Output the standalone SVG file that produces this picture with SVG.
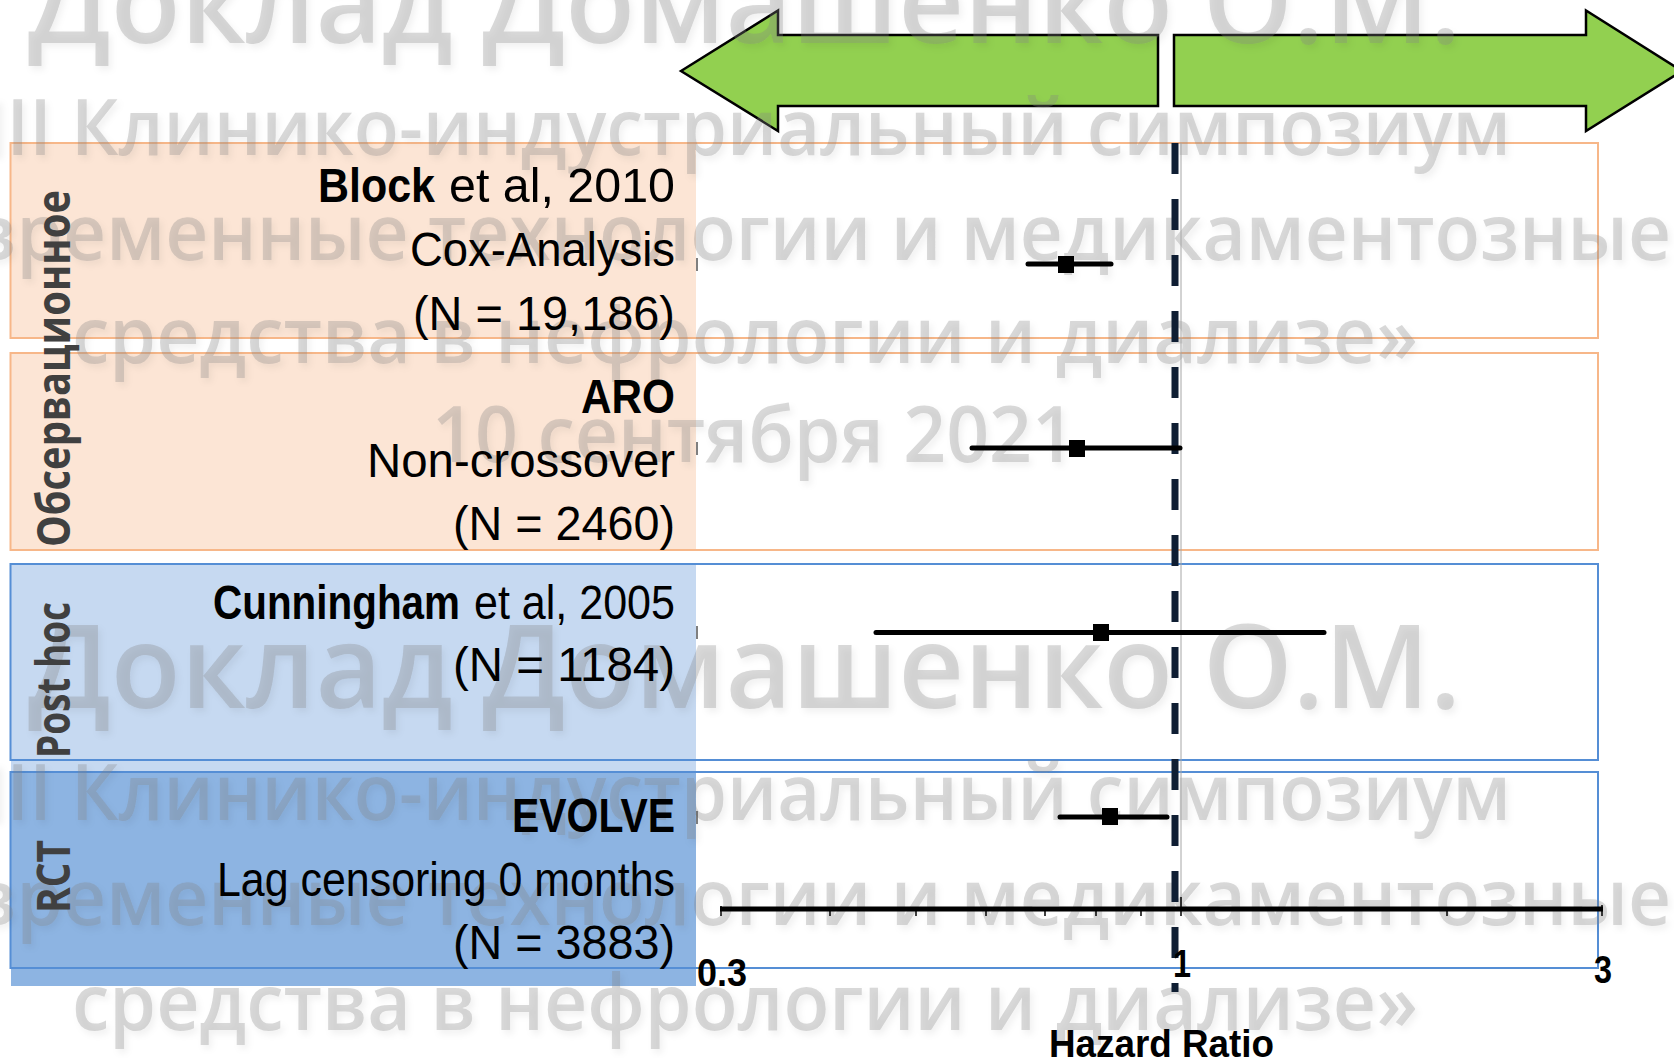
<svg xmlns="http://www.w3.org/2000/svg" width="1674" height="1061" viewBox="0 0 1674 1061">
  <style>
    .lbl { font-family: "Liberation Sans", Arial, sans-serif; font-size: 48px; fill: #000; }
    .b { font-weight: bold; }
    .grp { font-family: "Open Sans", "Noto Sans", sans-serif; font-size: 46px; font-weight: bold; fill: #404040; }
    .tick { font-family: "Liberation Sans", Arial, sans-serif; font-size: 38px; font-weight: bold; fill: #000; }
    .wm { font-family: "Open Sans", "Noto Sans", sans-serif; font-weight: 600; fill: #808080; fill-opacity: 0.3; }
    .obs-fill { fill: #FCE5D5; }
    .obs-box { fill: none; stroke: #F7B789; stroke-width: 2; }
    .ph-fill { fill: #C6D9F1; }
    .rct-fill { fill: #8DB4E2; }
    .blue-box { fill: none; stroke: #558ED5; stroke-width: 2; }
    .arrow { fill: #92D050; stroke: #000; stroke-width: 2.5; stroke-linejoin: miter; }
    .ci { stroke: #000; stroke-width: 5; stroke-linecap: round; fill: none; }
    .pt { fill: #000; }
    .edge { stroke: #555; stroke-width: 1.5; }
    .minor { stroke: #000; stroke-width: 1.5; }
  </style>
  <defs>
    <filter id="soft" x="-5%" y="-20%" width="110%" height="140%">
      <feDropShadow dx="3" dy="4" stdDeviation="3" flood-color="#000" flood-opacity="0.18"/>
    </filter>
  </defs>

  <rect width="1674" height="1061" fill="#fff"/>

  <!-- direction arrows above the plot -->
  <g id="arrow-left">
    <polygon class="arrow" points="681,71 778,10.5 778,35 1158,35 1158,106 778,106 778,131"/>
  </g>
  <g id="arrow-right">
    <polygon class="arrow" points="1174,35 1586,35 1586,10.5 1682,71 1586,131 1586,106 1174,106"/>
  </g>

  <!-- shaded label columns -->
  <g id="band-fills">
    <rect class="obs-fill" x="11" y="143" width="685" height="195"/>
    <rect class="obs-fill" x="11" y="353" width="685" height="197"/>
    <rect class="ph-fill" x="11" y="564" width="685" height="208"/>
    <rect class="rct-fill" x="11" y="772" width="685" height="214"/>
  </g>

  <!-- row frames -->
  <g id="band-frames">
    <rect class="obs-box" x="10.5" y="143" width="1587.5" height="195"/>
    <rect class="obs-box" x="10.5" y="353" width="1587.5" height="197"/>
    <rect class="blue-box" x="10.5" y="564" width="1587.5" height="196"/>
    <rect class="blue-box" x="10.5" y="772" width="1587.5" height="196"/>
  </g>

  <!-- event watermark -->
  <g id="watermark" class="wm" filter="url(#soft)">
    <text x="28" y="43" font-size="116" textLength="1433" lengthAdjust="spacingAndGlyphs">Доклад Домашенко О.М.</text>
    <text x="-16" y="155" font-size="77" textLength="1527" lengthAdjust="spacingAndGlyphs">III Клинико-индустриальный симпозиум</text>
    <text x="-163" y="260" font-size="77" textLength="1834" lengthAdjust="spacingAndGlyphs">«Современные технологии и медикаментозные</text>
    <text x="72" y="363" font-size="77" textLength="1346" lengthAdjust="spacingAndGlyphs">средства в нефрологии и диализе»</text>
    <text x="432" y="462" font-size="77" textLength="643" lengthAdjust="spacingAndGlyphs">10 сентября 2021</text>
    <text x="28" y="708" font-size="116" textLength="1433" lengthAdjust="spacingAndGlyphs">Доклад Домашенко О.М.</text>
    <text x="-16" y="820" font-size="77" textLength="1527" lengthAdjust="spacingAndGlyphs">III Клинико-индустриальный симпозиум</text>
    <text x="-163" y="925" font-size="77" textLength="1834" lengthAdjust="spacingAndGlyphs">«Современные технологии и медикаментозные</text>
    <text x="72" y="1030" font-size="77" textLength="1346" lengthAdjust="spacingAndGlyphs">средства в нефрологии и диализе»</text>
  </g>

  <!-- group captions, vertical -->
  <g id="group-observational">
    <text class="grp" transform="rotate(-90)" x="-547" y="70" textLength="357" lengthAdjust="spacingAndGlyphs">Обсервационное</text>
  </g>
  <g id="group-posthoc">
    <text class="grp" transform="rotate(-90)" x="-758" y="70" textLength="156" lengthAdjust="spacingAndGlyphs">Post hoc</text>
  </g>
  <g id="group-rct">
    <text class="grp" transform="rotate(-90)" x="-913" y="70" textLength="73" lengthAdjust="spacingAndGlyphs">RCT</text>
  </g>

  <!-- study labels -->
  <g id="study-block">
    <text class="lbl b" x="318" y="202" textLength="117" lengthAdjust="spacingAndGlyphs">Block</text>
    <text class="lbl" x="449" y="202" textLength="226" lengthAdjust="spacingAndGlyphs">et al, 2010</text>
    <text class="lbl" x="410" y="266" textLength="265" lengthAdjust="spacingAndGlyphs">Cox-Analysis</text>
    <text class="lbl" x="413" y="330" textLength="262" lengthAdjust="spacingAndGlyphs">(N = 19,186)</text>
  </g>
  <g id="study-aro">
    <text class="lbl b" x="581" y="413" textLength="94" lengthAdjust="spacingAndGlyphs">ARO</text>
    <text class="lbl" x="367" y="477" textLength="308" lengthAdjust="spacingAndGlyphs">Non-crossover</text>
    <text class="lbl" x="453" y="540" textLength="222" lengthAdjust="spacingAndGlyphs">(N = 2460)</text>
  </g>
  <g id="study-cunningham">
    <text class="lbl b" x="213" y="619" textLength="247" lengthAdjust="spacingAndGlyphs">Cunningham</text>
    <text class="lbl" x="474" y="619" textLength="201" lengthAdjust="spacingAndGlyphs">et al, 2005</text>
    <text class="lbl" x="453" y="681" textLength="222" lengthAdjust="spacingAndGlyphs">(N = 1184)</text>
  </g>
  <g id="study-evolve">
    <text class="lbl b" x="512" y="832" textLength="163" lengthAdjust="spacingAndGlyphs">EVOLVE</text>
    <text class="lbl" x="217" y="896" textLength="458" lengthAdjust="spacingAndGlyphs">Lag censoring 0 months</text>
    <text class="lbl" x="453" y="959" textLength="222" lengthAdjust="spacingAndGlyphs">(N = 3883)</text>
  </g>

  <!-- plot: reference line at HR = 1, estimates and log axis -->
  <g id="connectors">
    <line x1="1181" y1="143" x2="1181" y2="906" stroke="#a6a6a6" stroke-width="1"/>
    <line x1="1175" y1="143" x2="1175" y2="992" stroke="#0F1E33" stroke-width="7" stroke-dasharray="31 25"/>

    <g class="edge">
      <line x1="697" y1="258" x2="697" y2="271"/>
      <line x1="697" y1="442" x2="697" y2="455"/>
      <line x1="697" y1="626" x2="697" y2="639"/>
      <line x1="697" y1="811" x2="697" y2="824"/>
    </g>

    <g id="ci-block">
      <line class="ci" x1="1028" y1="264" x2="1111" y2="264"/>
      <rect class="pt" x="1058" y="256" width="16" height="17"/>
    </g>
    <g id="ci-aro">
      <line class="ci" x1="972" y1="448" x2="1180" y2="448"/>
      <rect class="pt" x="1069" y="440" width="16" height="17"/>
    </g>
    <g id="ci-cunningham">
      <line class="ci" x1="876" y1="632.5" x2="1324" y2="632.5"/>
      <rect class="pt" x="1093" y="624" width="16" height="17"/>
    </g>
    <g id="ci-evolve">
      <line class="ci" x1="1060" y1="817" x2="1167" y2="817"/>
      <rect class="pt" x="1102" y="808" width="16" height="17"/>
    </g>

    <g id="axis">
      <line x1="720" y1="909" x2="1603" y2="909" stroke="#000" stroke-width="5"/>
      <g class="minor">
        <line x1="721" y1="906" x2="721" y2="916"/>
        <line x1="830" y1="909" x2="830" y2="916"/>
        <line x1="916" y1="909" x2="916" y2="916"/>
        <line x1="986" y1="909" x2="986" y2="916"/>
        <line x1="1045" y1="909" x2="1045" y2="916"/>
        <line x1="1096" y1="909" x2="1096" y2="916"/>
        <line x1="1141" y1="909" x2="1141" y2="916"/>
        <line x1="1181" y1="897" x2="1181" y2="916"/>
        <line x1="1447" y1="909" x2="1447" y2="916"/>
        <line x1="1602" y1="905" x2="1602" y2="916"/>
      </g>
      <text class="tick" x="697" y="986" textLength="50" lengthAdjust="spacingAndGlyphs">0.3</text>
      <text class="tick" x="1173" y="977" textLength="18" lengthAdjust="spacingAndGlyphs">1</text>
      <text class="tick" x="1594" y="983" textLength="18" lengthAdjust="spacingAndGlyphs">3</text>
      <text class="tick" x="1049" y="1057" textLength="225" lengthAdjust="spacingAndGlyphs">Hazard Ratio</text>
    </g>
  </g>
</svg>
